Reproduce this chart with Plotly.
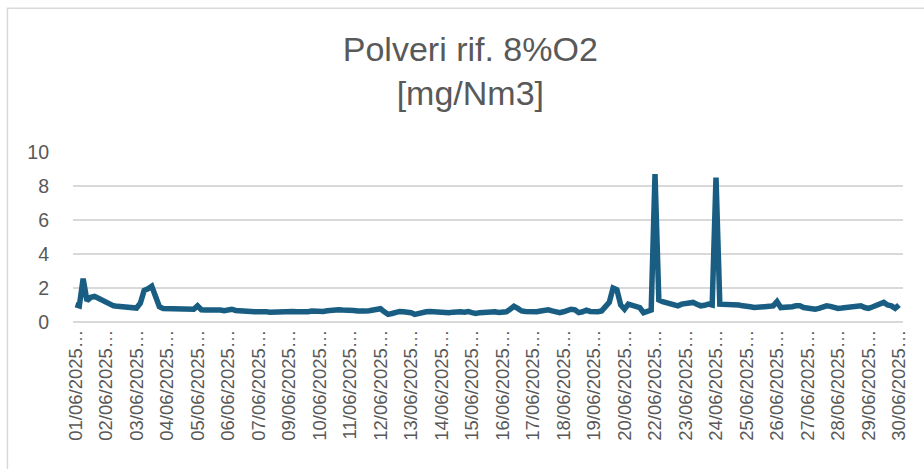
import plotly.graph_objects as go

# Dust concentration referred to 8% O2, June 2025 (mg/Nm3).
# Readings are grouped in blocks of 8 samples per date label on the axis.
date_labels = [
    "01/06/2025…", "02/06/2025…", "03/06/2025…", "04/06/2025…", "05/06/2025…",
    "06/06/2025…", "07/06/2025…", "09/06/2025…", "10/06/2025…", "11/06/2025…",
    "12/06/2025…", "13/06/2025…", "14/06/2025…", "15/06/2025…", "16/06/2025…",
    "17/06/2025…", "18/06/2025…", "19/06/2025…", "20/06/2025…", "22/06/2025…",
    "23/06/2025…", "24/06/2025…", "25/06/2025…", "26/06/2025…", "27/06/2025…",
    "28/06/2025…", "29/06/2025…", "30/06/2025…",
]
samples_per_label = 8

dust = [
    # 01/06
    1.02, 0.95, 2.55, 1.25, 1.45, 1.50, 1.40, 1.30,
    # 02/06
    1.15, 1.02, 0.95, 0.92, 0.90, 0.85, 0.80, 0.78,
    # 03/06
    0.82, 1.10, 1.85, 1.95, 2.10, 1.50, 0.90, 0.80,
    # 04/06
    0.80, 0.82, 0.80, 0.83, 0.80, 0.78, 0.80, 0.75,
    # 05/06
    0.95, 0.72, 0.70, 0.72, 0.70, 0.68, 0.70, 0.66,
    # 06/06
    0.68, 0.75, 0.68, 0.65, 0.70, 0.66, 0.62, 0.60,
    # 07/06
    0.60, 0.63, 0.60, 0.58, 0.60, 0.62, 0.60, 0.64,
    # 09/06
    0.65, 0.62, 0.60, 0.58, 0.62, 0.60, 0.65, 0.63,
    # 10/06
    0.65, 0.62, 0.66, 0.70, 0.68, 0.72, 0.70, 0.72,
    # 11/06
    0.74, 0.68, 0.65, 0.62, 0.64, 0.66, 0.70, 0.76,
    # 12/06
    0.78, 0.60, 0.45, 0.50, 0.58, 0.62, 0.60, 0.58,
    # 13/06
    0.55, 0.45, 0.52, 0.58, 0.60, 0.62, 0.60, 0.60,
    # 14/06
    0.58, 0.52, 0.55, 0.58, 0.55, 0.60, 0.58, 0.62,
    # 15/06
    0.55, 0.50, 0.55, 0.58, 0.60, 0.57, 0.60, 0.56,
    # 16/06
    0.55, 0.60, 0.75, 0.92, 0.80, 0.65, 0.62, 0.60,
    # 17/06
    0.58, 0.60, 0.65, 0.70, 0.72, 0.65, 0.58, 0.55,
    # 18/06
    0.60, 0.68, 0.75, 0.72, 0.55, 0.60, 0.70, 0.62,
    # 19/06
    0.60, 0.60, 0.65, 0.85, 1.15, 2.00, 1.90, 1.00,
    # 20/06
    0.75, 1.05, 1.00, 0.95, 0.85, 0.55, 0.60, 0.70,
    # 22/06
    8.70, 1.30, 1.20, 1.15, 1.05, 1.00, 0.95, 1.05,
    # 23/06
    1.10, 1.15, 1.15, 1.05, 0.95, 0.98, 1.05, 1.00,
    # 24/06
    8.50, 1.05, 1.05, 1.00, 1.00, 0.98, 1.00, 0.95,
    # 25/06
    0.95, 0.90, 0.85, 0.85, 0.88, 0.90, 0.92, 0.95,
    # 26/06
    1.20, 0.85, 0.85, 0.88, 0.90, 0.95, 0.95, 0.85,
    # 27/06
    0.80, 0.78, 0.75, 0.80, 0.90, 0.95, 0.92, 0.85,
    # 28/06
    0.80, 0.82, 0.85, 0.88, 0.90, 0.92, 0.95, 0.85,
    # 29/06
    0.80, 0.88, 0.95, 1.05, 1.15, 1.00, 0.95, 0.80,
    # 30/06
    1.00,
]

sample_index = list(range(len(dust)))
tick_positions = [i * samples_per_label for i in range(len(date_labels))]

grey_text = "#595959"
grid_grey = "#d9d9d9"
series_blue = "#195e82"
font_family = "Liberation Sans, Arial, sans-serif"

fig = go.Figure()
fig.add_trace(go.Scatter(
    x=sample_index,
    y=dust,
    mode="lines",
    line=dict(color=series_blue, width=5.5),
    hoverinfo="y",
    showlegend=False,
))

fig.update_layout(
    width=924,
    height=469,
    paper_bgcolor="white",
    plot_bgcolor="white",
    margin=dict(l=73, r=21, t=152, b=147),
    title=dict(
        text="Polveri rif. 8%O2<br>[mg/Nm3]",
        x=0.509,
        xref="container",
        xanchor="center",
        y=0.87,
        yref="container",
        yanchor="top",
        font=dict(family=font_family, size=34, color=grey_text),
    ),
    xaxis=dict(
        range=[-0.66, 217.05],
        tickmode="array",
        tickvals=tick_positions,
        ticktext=date_labels,
        tickangle=-90,
        ticks="",
        showgrid=False,
        zeroline=False,
        showline=False,
        tickfont=dict(family=font_family, size=18.5, color=grey_text),
        ticklabelstandoff=3,
    ),
    yaxis=dict(
        range=[0, 10],
        tickmode="linear",
        tick0=0,
        dtick=2,
        ticks="",
        showgrid=True,
        gridcolor=grid_grey,
        gridwidth=1.5,
        zeroline=True,
        zerolinecolor=grid_grey,
        zerolinewidth=1.5,
        showline=False,
        tickfont=dict(family=font_family, size=19.5, color=grey_text),
        ticklabelstandoff=23,
    ),
    shapes=[
        # light frame around the chart area
        dict(
            type="rect",
            xref="paper", yref="paper",
            x0=-0.079, x1=1.04, y0=-0.93, y1=1.846,
            line=dict(color=grid_grey, width=1.5),
            fillcolor="rgba(0,0,0,0)",
            layer="below",
        ),
    ],
)

fig.write_html("out.html")
